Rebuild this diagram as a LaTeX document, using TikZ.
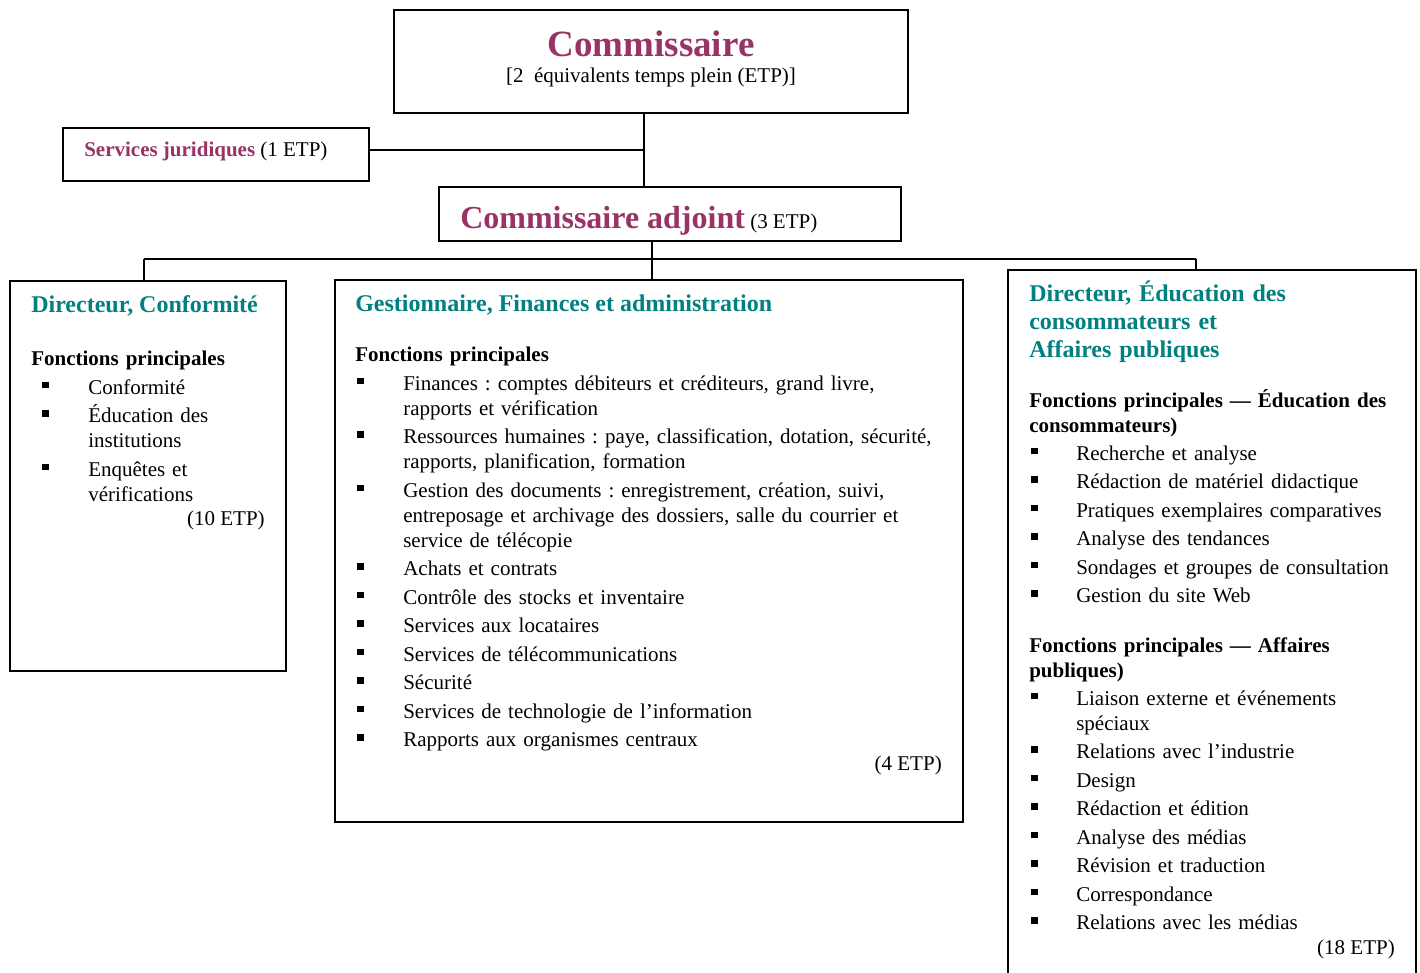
\documentclass[tikz,border=0pt]{standalone}
\usepackage{fontspec}
\setmainfont{Liberation Serif}
\usetikzlibrary{fit}
\frenchspacing

\definecolor{prune}{RGB}{153,51,102}
\definecolor{sarcelle}{RGB}{0,128,128}

\newlength\retrait
\newlength\decal
\newcommand{\corps}{\fontsize{15.75}{18.75}\selectfont}
\newcommand{\puce}[1]{\par\hangindent=\retrait\hangafter=1\noindent\makebox[\retrait][l]{\hspace*{\decal}\rule[4.5pt]{5pt}{5pt}}#1}

\tikzset{
  cadre/.style={draw, line width=1.1pt, inner sep=0pt},
  lien/.style={line width=1pt},
  titre/.style={anchor=base west, inner sep=0pt, align=left, text=sarcelle, font=\fontsize{18}{21}\selectfont\bfseries},
  liste/.style={anchor=base west, inner sep=0pt, align=left, text width=#1, font=\corps},
  etp/.style={anchor=base east, inner sep=0pt, font=\corps}
}

\begin{document}
\begin{tikzpicture}[x=0.75pt,y=0.75pt,yscale=-1,xscale=1]
\useasboundingbox (0,0) rectangle (1420,973);

%Boxes
\node [cadre, fit={(394,10) (908,113)}] (comm) {};
\node [cadre, fit={(63,128) (369,181)}] (jur) {};
\node [cadre, fit={(439,187) (901,241)}] (adj) {};
\node [cadre, fit={(10,281) (286,671)}] (conf) {};
\node [cadre, fit={(335,280) (963,822)}] (gest) {};
%open at the bottom of the page
\node [cadre, fit={(1008,270) (1416,995)}] (educ) {};

%Connectors
\coordinate (nj) at (644,150);
\draw [lien] (comm.south -| nj) -- (adj.north -| nj);
\draw [lien] (jur.east |- nj) -- (nj);
\coordinate (na) at (652,259);
\coordinate (bg) at (144,259);
\coordinate (bd) at (1196,259);
\draw [lien] (adj.south -| na) -- (gest.north -| na);
\draw [lien] (bg) -- (bd);
\draw [lien] (bg) -- (conf.north -| bg);
\draw [lien] (bd) -- (educ.north -| bd);

% Text Node
\node [anchor=base, inner sep=0pt, text=prune, font=\fontsize{27.75}{33}\selectfont\bfseries] (tcomm) at (651,57) {Commissaire};
% Text Node
\node [anchor=base, inner sep=0pt, font=\corps] (scomm) at (651,83) {[2~~équivalents temps plein (ETP)]};
% Text Node
\node [anchor=base west, inner sep=0pt, font=\corps] (tjur) at (84,157) {\textcolor{prune}{\bfseries Services juridiques} (1 ETP)};
% Text Node
\node [anchor=base west, inner sep=0pt, font=\corps] (tadj) at (460,229) {\textcolor{prune}{\fontsize{24}{28}\selectfont\bfseries Commissaire adjoint} (3 ETP)};

% Text Node
\node [titre] (tconf) at (31,313) {Directeur, Conformité};
\node [liste=180pt] (lconf) at (31,366) {\setlength\retrait{42.75pt}\setlength\decal{8pt}\setlength\parskip{2.6pt}%
\textbf{Fonctions principales}%
\puce{Conformité}%
\puce{Éducation des\newline institutions}%
\puce{Enquêtes et\newline vérifications}\par};
\node [etp] (econf) at (265,525) {(10 ETP)};

% Text Node
\node [titre] (tgest) at (355,312) {Gestionnaire, Finances et administration};
\node [liste=450pt] (lgest) at (355,362) {\setlength\retrait{36pt}\setlength\decal{1.5pt}\setlength\parskip{2.6pt}%
\textbf{Fonctions principales}%
\puce{Finances : comptes débiteurs et créditeurs, grand livre,\newline rapports et vérification}%
\puce{Ressources humaines : paye, classification, dotation, sécurité,\newline rapports, planification, formation}%
\puce{Gestion des documents : enregistrement, création, suivi,\newline entreposage et archivage des dossiers, salle du courrier et\newline service de télécopie}%
\puce{Achats et contrats}%
\puce{Contrôle des stocks et inventaire}%
\puce{Services aux locataires}%
\puce{Services de télécommunications}%
\puce{Sécurité}%
\puce{Services de technologie de l’information}%
\puce{Rapports aux organismes centraux}\par};
\node [etp] (egest) at (942,770) {(4 ETP)};

% Text Node
\node [titre, text width=300pt] (teduc) at (1029,302) {Directeur, Éducation des\\consommateurs et\\Affaires publiques};
\node [liste=290pt] (leduc) at (1029,407) {\setlength\retrait{35.25pt}\setlength\decal{1.5pt}\setlength\parskip{2.6pt}%
\textbf{Fonctions principales — Éducation des\newline consommateurs)}%
\puce{Recherche et analyse}%
\puce{Rédaction de matériel didactique}%
\puce{Pratiques exemplaires comparatives}%
\puce{Analyse des tendances}%
\puce{Sondages et groupes de consultation}%
\puce{Gestion du site Web}\par};
\node [liste=290pt] (laff) at (1029,652) {\setlength\retrait{35.25pt}\setlength\decal{1.5pt}\setlength\parskip{2.6pt}%
\textbf{Fonctions principales — Affaires\newline publiques)}%
\puce{Liaison externe et événements\newline spéciaux}%
\puce{Relations avec l’industrie}%
\puce{Design}%
\puce{Rédaction et édition}%
\puce{Analyse des médias}%
\puce{Révision et traduction}%
\puce{Correspondance}%
\puce{Relations avec les médias}\par};
\node [etp] (eeduc) at (1395,954) {(18 ETP)};

\end{tikzpicture}
\end{document}
